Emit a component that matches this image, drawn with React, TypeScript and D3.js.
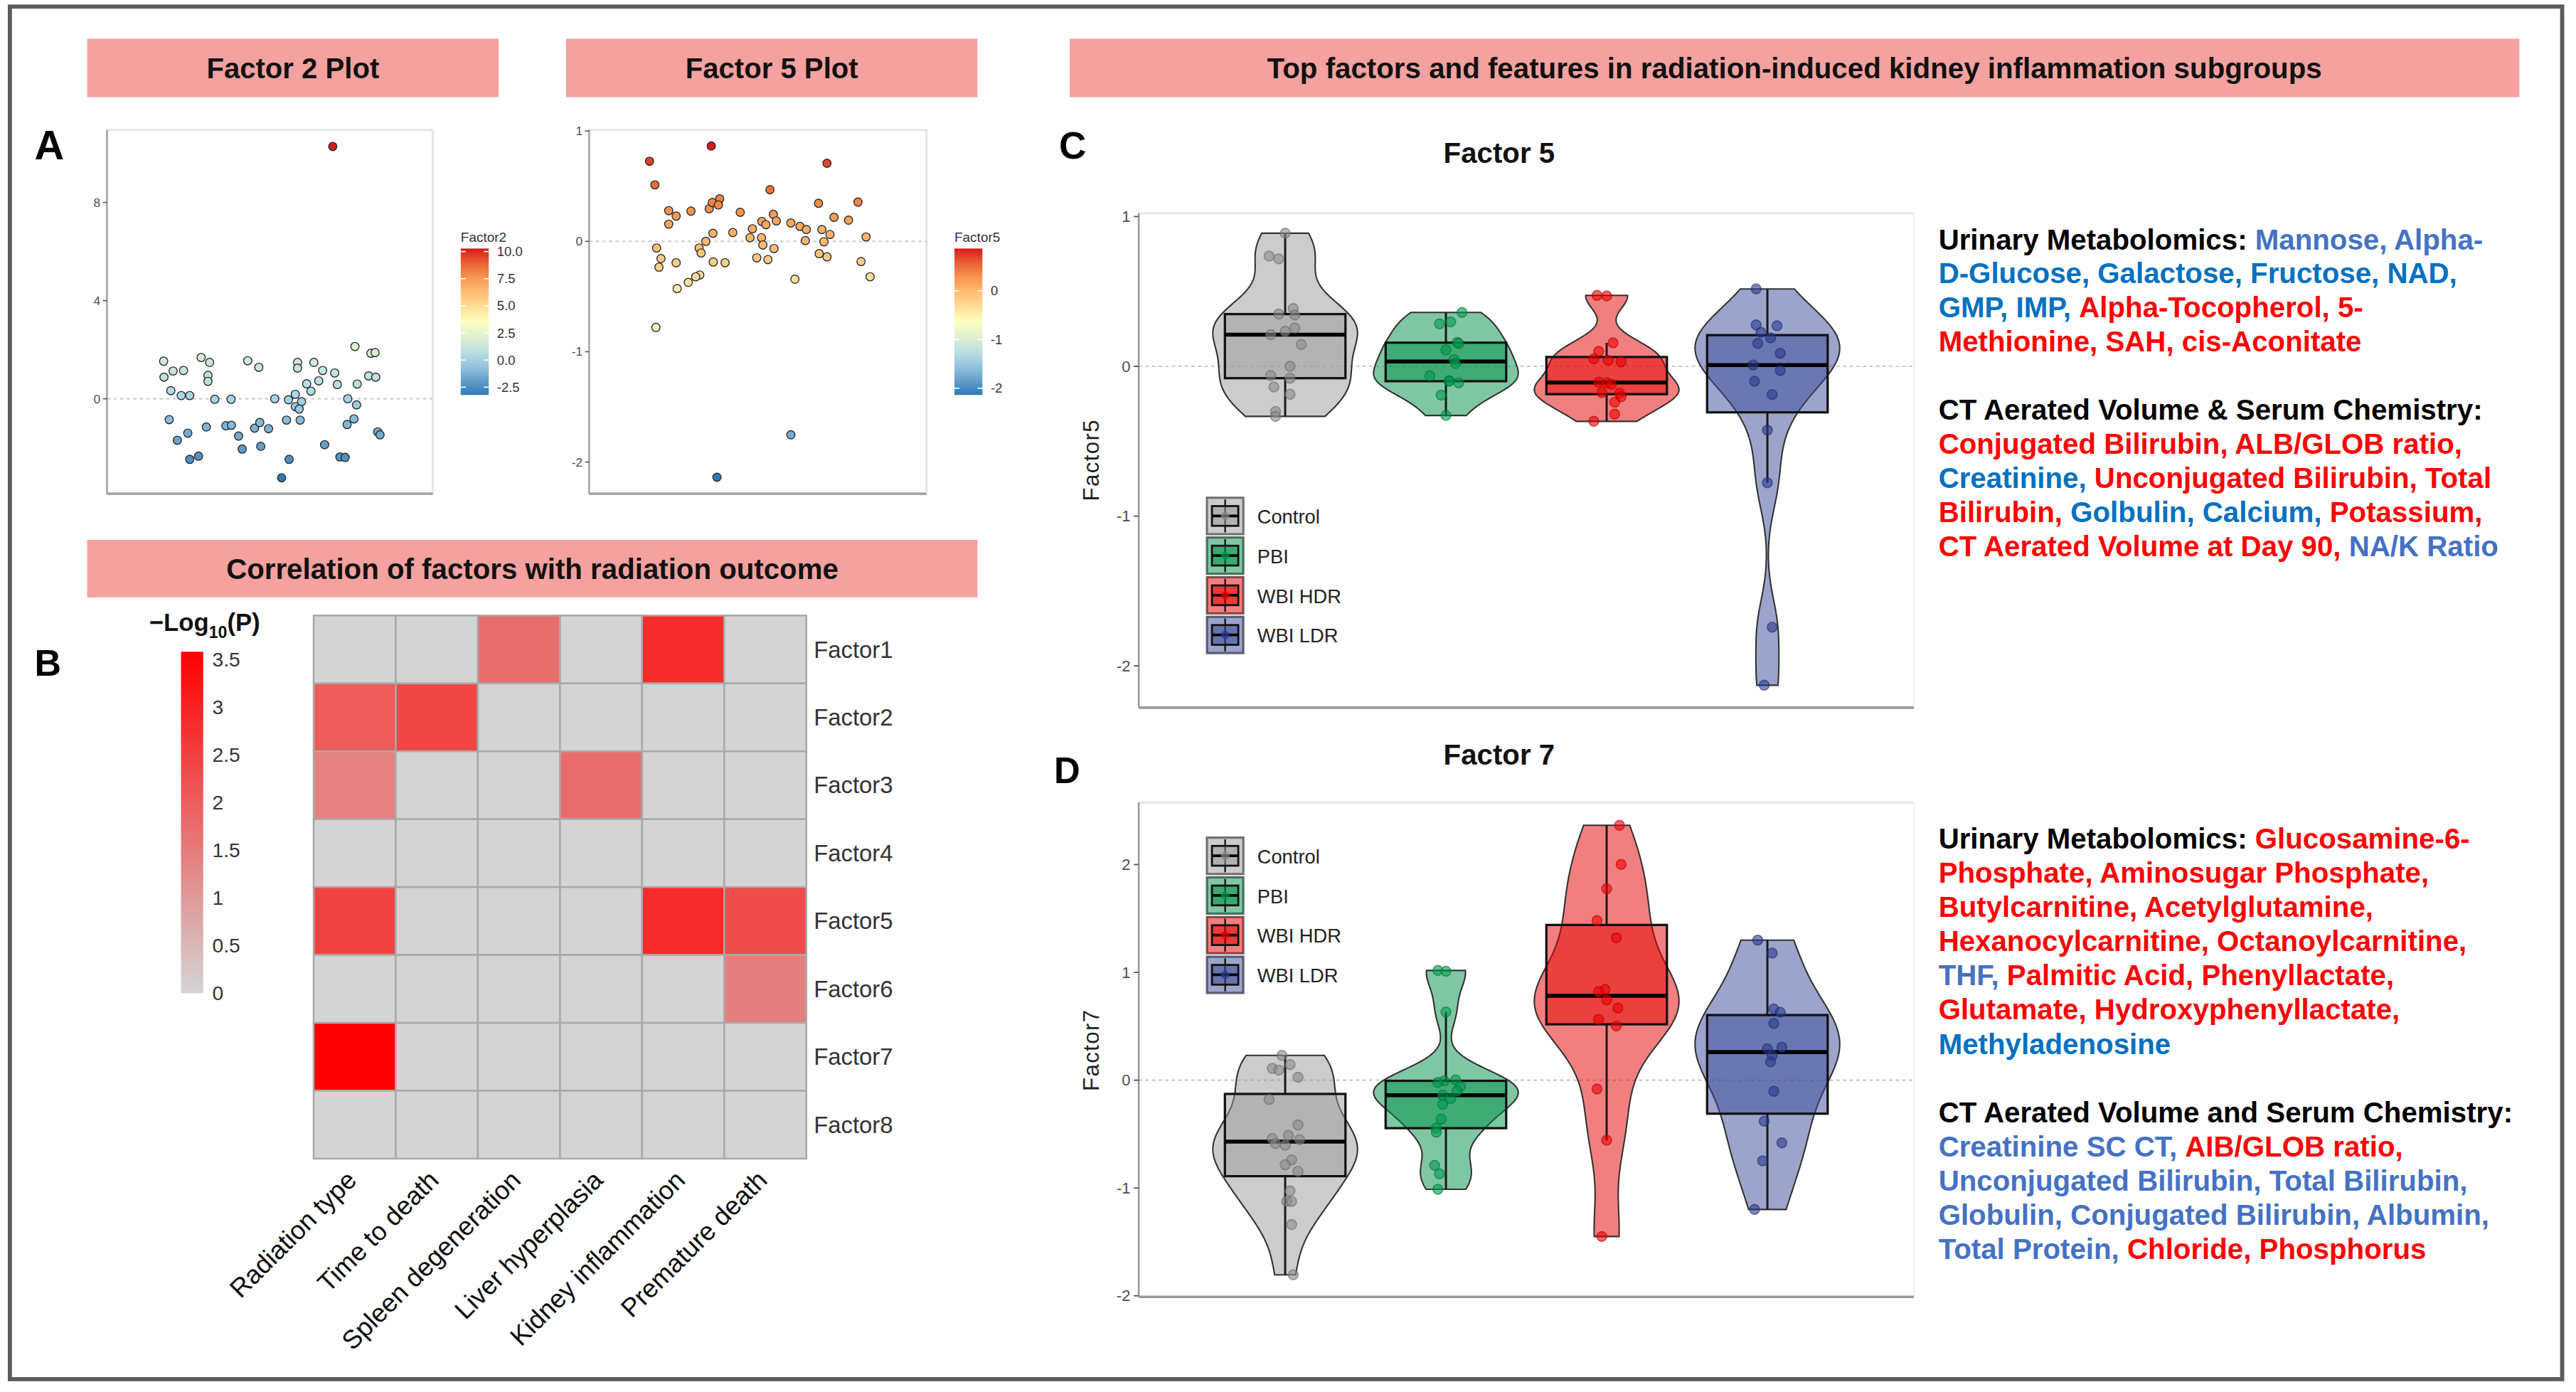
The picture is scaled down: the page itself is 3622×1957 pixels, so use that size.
import React from 'react';
import * as d3 from 'd3';

const FONT = "'Liberation Sans', Arial, Helvetica, sans-serif";
const VB_W = 1565.4;
const VB_H = 845.8;

// ---------- A: factor scatter plots ----------
// [sample position (% of panel width), factor value]
const factor2Points: [number, number][] = [
  [69.3, 10.28], [17.4, 1.53], [17.5, 0.88], [20.3, 1.13], [23.5, 1.15], [19.6, 0.33], [22.8, 0.13],
  [25.4, 0.13], [28.9, 1.68], [31.5, 1.48], [31.0, 0.95], [31.0, 0.71], [33.1, -0.02], [38.1, -0.02],
  [43.2, 1.55], [46.6, 1.28], [51.5, 0.0], [55.7, -0.04], [57.8, 0.18], [59.7, -0.12], [57.8, -0.32],
  [59.0, -0.42], [58.5, 1.48], [58.5, 1.25], [63.5, 1.48], [61.3, 0.61], [62.6, 0.31], [65.0, 0.73],
  [66.2, 1.15], [69.9, 1.05], [70.7, 0.58], [76.1, 2.13], [81.0, 1.85], [82.3, 1.88], [80.3, 0.93],
  [82.5, 0.88], [76.8, 0.6], [73.9, 0.0], [76.6, -0.25], [19.1, -0.85], [21.6, -1.69], [24.8, -1.4],
  [25.4, -2.47], [28.1, -2.34], [30.5, -1.15], [36.5, -1.1], [38.2, -1.08], [40.4, -1.52], [41.5, -2.05],
  [45.3, -1.2], [46.9, -0.97], [49.6, -1.22], [47.2, -1.94], [55.1, -0.87], [59.3, -0.87], [55.9, -2.47],
  [53.6, -3.22], [66.8, -1.87], [71.5, -2.37], [73.1, -2.39], [73.7, -1.05], [75.8, -0.82], [83.1, -1.35],
  [83.8, -1.47],
];
const factor5Points: [number, number][] = [
  [17.9, 0.726], [19.5, 0.512], [36.2, 0.864], [70.5, 0.708], [53.6, 0.468], [23.6, 0.278], [25.8, 0.229],
  [23.6, 0.156], [30.2, 0.274], [35.6, 0.296], [36.5, 0.352], [38.7, 0.385], [38.3, 0.33], [44.8, 0.263],
  [54.6, 0.245], [51.2, 0.18], [52.4, 0.151], [55.5, 0.185], [59.8, 0.167], [62.5, 0.136], [64.4, 0.107],
  [68.0, 0.345], [72.6, 0.218], [76.9, 0.192], [79.7, 0.356], [69.0, 0.107], [71.4, 0.062], [82.1, 0.04],
  [36.7, 0.073], [42.6, 0.08], [48.4, 0.114], [47.7, 0.033], [51.1, 0.033], [51.5, -0.033], [54.8, -0.065],
  [64.1, 0.007], [69.6, -0.004], [34.6, 0.0], [32.6, -0.06], [33.2, -0.105], [20.0, -0.06], [21.3, -0.156],
  [20.7, -0.234], [25.8, -0.194], [36.8, -0.187], [40.3, -0.194], [49.7, -0.149], [53.0, -0.165],
  [68.2, -0.111], [70.5, -0.14], [80.6, -0.183], [83.3, -0.321], [61.0, -0.343], [32.8, -0.305],
  [31.6, -0.321], [29.4, -0.372], [26.1, -0.428], [19.8, -0.78], [59.8, -1.753], [37.9, -2.138],
];
const factor2Ticks = [0, 4, 8];
const factor5Ticks = [-2, -1, 0, 1];
const factor2LegendTicks = [-2.5, 0, 2.5, 5, 7.5, 10];
const factor5LegendTicks = [-2, -1, 0];
const rdylbu = ['#2c7bb6', '#abd9e9', '#ffffbf', '#fdae61', '#d7191c'];

// ---------- B: -log10(P) heatmap ----------
const outcomes = ['Radiation type', 'Time to death', 'Spleen degeneration', 'Liver hyperplasia', 'Kidney inflammation', 'Premature death'];
const factorNames = ['Factor1', 'Factor2', 'Factor3', 'Factor4', 'Factor5', 'Factor6', 'Factor7', 'Factor8'];
const factor1LogP = [0, 0, 1.75, 0, 2.85, 0];
const factor2LogP = [2.05, 2.4, 0, 0, 0, 0];
const factor3LogP = [1.4, 0, 0, 1.75, 0, 0];
const factor4LogP = [0, 0, 0, 0, 0, 0];
const factor5LogP = [2.45, 0, 0, 0, 2.85, 2.3];
const factor6LogP = [0, 0, 0, 0, 0, 1.45];
const factor7LogP = [3.58, 0, 0, 0, 0, 0];
const factor8LogP = [0, 0, 0, 0, 0, 0];
const logPTicks = [0, 0.5, 1, 1.5, 2, 2.5, 3, 3.5];

// ---------- C / D: violin plots ----------
const groups = ['Control', 'PBI', 'WBI HDR', 'WBI LDR'];
const groupColors = ['#999999', '#008f48', '#e60000', '#3a4a98'];
const pointColors = ['#8a8a8a', '#00994d', '#ee0000', '#2a3a8c'];

// [factor value, horizontal jitter in group steps]
const f5Control: [number, number][] = [
  [0.889, 0.0], [0.736, -0.1], [0.718, -0.04], [0.386, 0.05], [0.349, -0.04], [0.343, 0.06], [0.255, 0.06],
  [0.234, 0.0], [0.212, -0.09], [0.146, 0.1], [0.0, 0.03], [-0.061, -0.09], [-0.079, 0.03], [-0.138, -0.07],
  [-0.186, 0.03], [-0.301, -0.06], [-0.334, -0.06],
];
const f5PBI: [number, number][] = [
  [0.36, 0.1], [0.297, 0.03], [0.284, -0.04], [0.16, 0.07], [0.153, 0.08], [0.109, 0.0], [0.045, 0.05],
  [0.02, 0.06], [-0.063, -0.1], [-0.096, 0.02], [-0.1, 0.02], [-0.11, 0.08], [-0.192, -0.03], [-0.328, 0.0],
];
const f5HDR: [number, number][] = [
  [0.474, -0.06], [0.47, 0.0], [0.157, 0.04], [0.1, -0.05], [0.05, -0.08], [0.04, 0.01], [0.03, 0.09],
  [-0.105, -0.05], [-0.11, 0.0], [-0.12, 0.03], [-0.175, -0.03], [-0.18, 0.08], [-0.203, 0.09],
  [-0.24, 0.05], [-0.319, 0.05], [-0.367, -0.08],
];
const f5LDR: [number, number][] = [
  [0.517, -0.07], [0.277, -0.07], [0.271, 0.06], [0.227, -0.04], [0.19, 0.02], [0.153, -0.06], [0.087, 0.08],
  [0.009, -0.09], [-0.028, 0.08], [-0.1, -0.08], [-0.188, 0.03], [-0.426, 0.0], [-0.777, 0.0],
  [-1.742, 0.03], [-2.129, -0.02],
];
const f7Control: [number, number][] = [
  [0.23, -0.02], [0.145, 0.03], [0.109, -0.08], [0.094, -0.04], [0.027, 0.08], [-0.179, -0.1], [-0.415, 0.08],
  [-0.512, 0.02], [-0.542, -0.08], [-0.588, -0.06], [-0.551, 0.09], [-0.603, 0.0], [-0.739, 0.04],
  [-0.784, 0.0], [-0.845, 0.08], [-1.027, 0.03], [-1.124, 0.01], [-1.124, 0.04], [-1.339, 0.04], [-1.805, 0.05],
];
const f7PBI: [number, number][] = [
  [1.018, -0.05], [1.01, 0.0], [0.633, 0.0], [0.003, 0.06], [-0.006, -0.01], [-0.021, -0.05], [-0.058, 0.09],
  [-0.1, 0.07], [-0.139, -0.02], [-0.17, 0.03], [-0.224, -0.02], [-0.36, -0.03], [-0.445, -0.06],
  [-0.482, -0.06], [-0.79, -0.07], [-0.869, -0.04], [-1.012, -0.05],
];
const f7HDR: [number, number][] = [
  [2.365, 0.08], [2.002, 0.09], [1.775, 0.0], [1.48, -0.06], [1.32, 0.06], [0.842, -0.01], [0.821, -0.05],
  [0.745, 0.0], [0.669, 0.07], [0.563, -0.05], [0.503, 0.06], [-0.082, -0.06], [-0.557, 0.0], [-1.45, -0.03],
];
const f7LDR: [number, number][] = [
  [1.299, -0.06], [1.178, 0.03], [0.66, 0.04], [0.63, 0.08], [0.527, 0.04], [0.306, 0.09], [0.291, 0.0],
  [0.23, 0.03], [0.17, 0.02], [-0.103, 0.04], [-0.38, -0.02], [-0.581, 0.09], [-0.748, -0.03], [-1.199, -0.08],
];
const factor5ViolinTicks = [-2, -1, 0, 1];
const factor7ViolinTicks = [-2, -1, 0, 1, 2];

// ---------- text blocks ----------
const textColors: Record<string, string> = { k: '#000000', r: '#ff0000', b1: '#4472c4', b2: '#0070c0' };
const factor5Text: [string, string][][] = [
  [['Urinary Metabolomics: ', 'k'], ['Mannose, Alpha-', 'b1']],
  [['D-Glucose, Galactose, Fructose, NAD,', 'b2']],
  [['GMP, IMP, ', 'b2'], ['Alpha-Tocopherol, 5-', 'r']],
  [['Methionine, SAH, cis-Aconitate', 'r']],
  [],
  [['CT Aerated Volume & Serum Chemistry:', 'k']],
  [['Conjugated Bilirubin, ALB/GLOB ratio,', 'r']],
  [['Creatinine, ', 'b2'], ['Unconjugated Bilirubin, Total', 'r']],
  [['Bilirubin, ', 'r'], ['Golbulin, Calcium, ', 'b2'], ['Potassium,', 'r']],
  [['CT Aerated Volume at Day 90, ', 'r'], ['NA/K Ratio', 'b1']],
];
const factor7Text: [string, string][][] = [
  [['Urinary Metabolomics: ', 'k'], ['Glucosamine-6-', 'r']],
  [['Phosphate, Aminosugar Phosphate,', 'r']],
  [['Butylcarnitine, Acetylglutamine,', 'r']],
  [['Hexanocylcarnitine, Octanoylcarnitine,', 'r']],
  [['THF, ', 'b1'], ['Palmitic Acid, Phenyllactate,', 'r']],
  [['Glutamate, Hydroxyphenyllactate,', 'r']],
  [['Methyladenosine', 'b2']],
  [],
  [['CT Aerated Volume and Serum Chemistry:', 'k']],
  [['Creatinine SC CT, ', 'b1'], ['AIB/GLOB ratio,', 'r']],
  [['Unconjugated Bilirubin, Total Bilirubin,', 'b1']],
  [['Globulin, Conjugated Bilirubin, Albumin,', 'b1']],
  [['Total Protein, ', 'b1'], ['Chloride, Phosphorus', 'r']],
];

// ---------- helpers ----------
function boxStats(vals: number[]) {
  const s = [...vals].sort(d3.ascending);
  const q1 = d3.quantileSorted(s, 0.25) as number;
  const med = d3.quantileSorted(s, 0.5) as number;
  const q3 = d3.quantileSorted(s, 0.75) as number;
  const iqr = q3 - q1;
  const lo = d3.min(s.filter((v) => v >= q1 - 1.5 * iqr)) as number;
  const hi = d3.max(s.filter((v) => v <= q3 + 1.5 * iqr)) as number;
  return { q1, med, q3, lo, hi };
}

// gaussian kde with nrd0 bandwidth, trimmed to data range (like geom_violin)
function violinDensity(vals: number[], n = 256) {
  const s = [...vals].sort(d3.ascending);
  const sd = d3.deviation(s) || 1;
  const iqr = (d3.quantileSorted(s, 0.75) as number) - (d3.quantileSorted(s, 0.25) as number);
  let spread = Math.min(sd, iqr / 1.34);
  if (!(spread > 0)) spread = sd;
  const bw = 0.9 * spread * Math.pow(s.length, -0.2);
  const lo = s[0];
  const hi = s[s.length - 1];
  return d3.range(n).map((i) => {
    const y = lo + ((hi - lo) * i) / (n - 1);
    const d = d3.mean(s, (v) => Math.exp(-0.5 * ((y - v) / bw) ** 2)) as number;
    return [y, d] as [number, number];
  });
}

function Scatter({ points, left, right, top, bottom, yDomain, ticks, legendTitle, legendX, legendTicks, legendFmt, gradId }: any) {
  const x = d3.scaleLinear([0, 100], [left, right]);
  const y = d3.scaleLinear(yDomain, [bottom, top]);
  const ext = d3.extent(points, (p: [number, number]) => p[1]) as [number, number];
  const stops = d3.range(rdylbu.length).map((i) => ext[0] + ((ext[1] - ext[0]) * i) / (rdylbu.length - 1));
  const color = d3.scaleLinear<string>().domain(stops).range(rdylbu).interpolate(d3.interpolateLab);
  const barTop = 151;
  const barBottom = 240;
  const barY = d3.scaleLinear(ext, [barBottom, barTop]);
  return (
    <g>
      <defs>
        <linearGradient id={gradId} x1="0" y1="1" x2="0" y2="0">
          {d3.range(11).map((i) => (
            <stop key={i} offset={i / 10} stopColor={color(ext[0] + ((ext[1] - ext[0]) * i) / 10)} />
          ))}
        </linearGradient>
      </defs>
      <rect x={left} y={top} width={right - left} height={bottom - top} fill="#fff" stroke="#e6e6e6" strokeWidth={1.4} />
      <line x1={left} x2={right} y1={y(0)} y2={y(0)} stroke="#cfcfcf" strokeWidth={1} strokeDasharray="2,2" />
      <line x1={left} x2={left} y1={top} y2={bottom} stroke="#a8a8a8" strokeWidth={1.1} />
      <line x1={left} x2={right} y1={bottom} y2={bottom} stroke="#a8a8a8" strokeWidth={1.6} />
      {ticks.map((t: number) => (
        <g key={t}>
          <line x1={left - 2.5} x2={left} y1={y(t)} y2={y(t)} stroke="#555" strokeWidth={0.7} />
          <text x={left - 4} y={y(t)} dominantBaseline="central" textAnchor="end" fontSize={7.5} fill="#4d4d4d" fontFamily={FONT}>
            {t}
          </text>
        </g>
      ))}
      {points.map((p: [number, number], i: number) => (
        <circle key={i} cx={x(p[0])} cy={y(p[1])} r={2.5} fill={color(p[1])} stroke="#2b2b2b" strokeWidth={0.6} />
      ))}
      <text x={legendX} y={147} fontSize={8.2} fill="#333" fontFamily={FONT}>{legendTitle}</text>
      <rect x={legendX} y={barTop} width={17} height={barBottom - barTop} fill={`url(#${gradId})`} />
      {legendTicks.map((t: number) => (
        <g key={t}>
          <line x1={legendX} x2={legendX + 3} y1={barY(t)} y2={barY(t)} stroke="#fff" strokeWidth={0.7} />
          <line x1={legendX + 14} x2={legendX + 17} y1={barY(t)} y2={barY(t)} stroke="#fff" strokeWidth={0.7} />
          <text x={legendX + 22} y={barY(t)} dominantBaseline="central" fontSize={8} fill="#333" fontFamily={FONT}>
            {legendFmt(t)}
          </text>
        </g>
      ))}
    </g>
  );
}

function Heatmap() {
  const rows = [factor1LogP, factor2LogP, factor3LogP, factor4LogP, factor5LogP, factor6LogP, factor7LogP, factor8LogP];
  const x = d3.scaleBand(outcomes, [190.6, 490]);
  const y = d3.scaleBand(factorNames, [374, 704]);
  const maxP = d3.max(rows.flat()) as number;
  const color = d3.scaleLinear<string>().domain([0, maxP]).range(['#d4d4d4', '#ff0000']);
  const legY = d3.scaleLinear([0, maxP], [603.5, 396]);
  return (
    <g fontFamily={FONT}>
      <defs>
        <linearGradient id="logp-grad" x1="0" y1="1" x2="0" y2="0">
          <stop offset="0" stopColor={color(0)} />
          <stop offset="1" stopColor={color(maxP)} />
        </linearGradient>
      </defs>
      {rows.map((row, ri) =>
        row.map((v, ci) => (
          <rect key={`${ri}-${ci}`} x={x(outcomes[ci])} y={y(factorNames[ri])} width={x.bandwidth()} height={y.bandwidth()}
            fill={color(v)} stroke="#a9a9a9" strokeWidth={1.1} />
        ))
      )}
      {factorNames.map((f) => (
        <text key={f} x={494.5} y={(y(f) as number) + y.bandwidth() / 2} dominantBaseline="central" fontSize={14.2} fill="#333">
          {f}
        </text>
      ))}
      {outcomes.map((o) => (
        <text key={o} transform={`translate(${(x(o) as number) + x.bandwidth() / 2 - 6},${710}) rotate(-45)`}
          textAnchor="end" dy="0.72em" fontSize={15.8} fill="#0a0a0a">
          {o}
        </text>
      ))}
      <text x={90.7} y={383.5} fontSize={15} fontWeight="bold" fill="#111">
        {'\u2212Log'}
        <tspan fontSize={10} dy={4}>10</tspan>
        <tspan dy={-4}>(P)</tspan>
      </text>
      <rect x={110} y={396} width={13.5} height={207.5} fill="url(#logp-grad)" />
      {logPTicks.map((t) => (
        <text key={t} x={129} y={legY(t)} dominantBaseline="central" fontSize={12.2} fill="#333">
          {t}
        </text>
      ))}
    </g>
  );
}

function LegendKey({ x, y, i }: any) {
  const c = groupColors[i];
  return (
    <g>
      <rect x={x} y={y} width={22} height={22} fill="#fff" stroke="#666" strokeWidth={1.4} />
      <rect x={x} y={y} width={22} height={22} fill={c} fillOpacity={0.5} />
      <line x1={x + 11} x2={x + 11} y1={y + 1} y2={y + 21} stroke="#111" strokeWidth={1} />
      <rect x={x + 3} y={y + 5} width={16} height={12} fill={c} fillOpacity={0.55} stroke="#111" strokeWidth={1.2} />
      <line x1={x + 3} x2={x + 19} y1={y + 11} y2={y + 11} stroke="#000" strokeWidth={1.6} />
      <circle cx={x + 11} cy={y + 11} r={2.6} fill={pointColors[i]} fillOpacity={0.7} />
    </g>
  );
}

function ViolinPanel({ data, top, bottom, yDomain, ticks, title, titleY, yTitle, yTitleY, legendTop }: any) {
  const left = 692;
  const right = 1163;
  const x = d3.scalePoint(groups, [left, right]).padding(0.911);
  const step = x.step();
  const y = d3.scaleLinear(yDomain, [bottom, top]);
  const halfMax = (0.9 * step) / 2;
  const boxHalf = (0.75 * step) / 2;
  return (
    <g fontFamily={FONT}>
      <text x={(left + right) / 2 - 16.5} y={titleY} textAnchor="middle" fontSize={17.4} fontWeight="bold" fill="#111">
        {title}
      </text>
      <line x1={left} x2={right} y1={top} y2={top} stroke="#e8e8e8" strokeWidth={1.5} />
      <line x1={right} x2={right} y1={top} y2={bottom} stroke="#f0f0f0" strokeWidth={1} />
      <line x1={left} x2={right} y1={y(0)} y2={y(0)} stroke="#c8c8c8" strokeWidth={0.9} strokeDasharray="2,2" />
      <line x1={left} x2={left} y1={top} y2={bottom} stroke="#9a9a9a" strokeWidth={1.1} />
      <line x1={left} x2={right} y1={bottom} y2={bottom} stroke="#9a9a9a" strokeWidth={1.6} />
      {ticks.map((t: number) => (
        <g key={t}>
          <line x1={left - 3} x2={left} y1={y(t)} y2={y(t)} stroke="#555" strokeWidth={0.8} />
          <text x={left - 5} y={y(t)} dominantBaseline="central" textAnchor="end" fontSize={9.5} fill="#4d4d4d">
            {t}
          </text>
        </g>
      ))}
      <text transform={`translate(663,${yTitleY}) rotate(-90)`} textAnchor="middle" dominantBaseline="central"
        fontSize={13.5} letterSpacing={0.6} fill="#222">
        {yTitle}
      </text>
      {data.map((pts: [number, number][], gi: number) => {
        const cx = x(groups[gi]) as number;
        const vals = pts.map((p) => p[0]);
        const dens = violinDensity(vals);
        const maxD = d3.max(dens, (d) => d[1]) as number;
        const area = d3.area<[number, number]>()
          .y((d) => y(d[0]))
          .x0((d) => cx - (halfMax * d[1]) / maxD)
          .x1((d) => cx + (halfMax * d[1]) / maxD)
          .curve(d3.curveLinear);
        const b = boxStats(vals);
        return (
          <g key={gi}>
            <path d={area(dens) as string} fill={groupColors[gi]} fillOpacity={0.5} stroke="#333" strokeWidth={0.9} />
            <line x1={cx} x2={cx} y1={y(b.q3)} y2={y(b.hi)} stroke="#1a1a1a" strokeWidth={1.3} />
            <line x1={cx} x2={cx} y1={y(b.q1)} y2={y(b.lo)} stroke="#1a1a1a" strokeWidth={1.3} />
            <rect x={cx - boxHalf} y={y(b.q3)} width={boxHalf * 2} height={y(b.q1) - y(b.q3)}
              fill={groupColors[gi]} fillOpacity={0.5} stroke="#111" strokeWidth={1.4} />
            <line x1={cx - boxHalf} x2={cx + boxHalf} y1={y(b.med)} y2={y(b.med)} stroke="#000" strokeWidth={2.4} />
            {pts.map((p, pi) => (
              <circle key={pi} cx={cx + p[1] * step} cy={y(p[0])} r={3} fill={pointColors[gi]} fillOpacity={0.6}
                stroke={d3.color(pointColors[gi])!.darker(0.8).formatHex()} strokeOpacity={0.6} strokeWidth={0.7} />
            ))}
          </g>
        );
      })}
      {groups.map((g, gi) => (
        <g key={g}>
          <LegendKey x={733.5} y={legendTop + gi * 24.1} i={gi} />
          <text x={764} y={legendTop + gi * 24.1 + 11.5} dominantBaseline="central" fontSize={11.8} fill="#222">
            {g}
          </text>
        </g>
      ))}
    </g>
  );
}

function TextBlock({ lines, x, y0, dy }: any) {
  return (
    <g fontFamily={FONT} fontSize={17.4} fontWeight="bold">
      {lines.map((segs: [string, string][], li: number) => (
        <text key={li} x={x} y={y0 + li * dy} style={{ whiteSpace: 'pre' }}>
          {segs.map((s, si) => (
            <tspan key={si} fill={textColors[s[1]]}>{s[0]}</tspan>
          ))}
        </text>
      ))}
    </g>
  );
}

function Header({ x, y, w, h, label, tw }: any) {
  return (
    <g>
      <rect x={x} y={y} width={w} height={h} fill="#f4a19f" />
      <text x={x + w / 2} y={y + h / 2 + 6.2} textAnchor="middle" fontFamily={FONT} fontWeight="bold" fontSize={17.4}
        fill="#111" textLength={tw} lengthAdjust="spacingAndGlyphs">
        {label}
      </text>
    </g>
  );
}

export default function App() {
  return (
    <div style={{ position: 'absolute', left: 0, top: 0 }}>
      <svg width={3622} height={1957} viewBox={`0 0 ${VB_W} ${VB_H}`} style={{ display: 'block', background: '#fff' }}>
        <rect x={0} y={0} width={VB_W} height={VB_H} fill="#fff" />
        <rect x={6} y={4} width={1551} height={834} fill="none" stroke="#5a5a5a" strokeWidth={2.5} />

        <Header x={53} y={23.5} w={250} h={35.5} label="Factor 2 Plot" tw={105} />
        <Header x={344} y={23.5} w={250} h={35.5} label="Factor 5 Plot" tw={105} />
        <Header x={650} y={23.5} w={881} h={35.5} label="Top factors and features in radiation-induced kidney inflammation subgroups" tw={641} />
        <Header x={53} y={328} w={541} h={35} label="Correlation of factors with radiation outcome" tw={372} />

        <g fontFamily={FONT} fontWeight="bold" fill="#000">
          <text x={21} y={97} fontSize={25}>A</text>
          <text x={21} y={410.6} fontSize={22.5}>B</text>
          <text x={643.5} y={96.5} fontSize={23}>C</text>
          <text x={640.5} y={475.7} fontSize={22}>D</text>
        </g>

        <Scatter points={factor2Points} left={65} right={263} top={79} bottom={300} yDomain={[-3.87, 10.95]}
          ticks={factor2Ticks} legendTitle="Factor2" legendX={280} legendTicks={factor2LegendTicks}
          legendFmt={(t: number) => t.toFixed(1)} gradId="f2grad" />
        <Scatter points={factor5Points} left={358} right={563} top={79} bottom={300} yDomain={[-2.287, 1.009]}
          ticks={factor5Ticks} legendTitle="Factor5" legendX={580} legendTicks={factor5LegendTicks}
          legendFmt={(t: number) => String(t)} gradId="f5grad" />

        <Heatmap />

        <ViolinPanel data={[f5Control, f5PBI, f5HDR, f5LDR]} top={129.6} bottom={430} yDomain={[-2.279, 1.022]}
          ticks={factor5ViolinTicks} title="Factor 5" titleY={99} yTitle="Factor5" yTitleY={279.5} legendTop={302.5} />
        <ViolinPanel data={[f7Control, f7PBI, f7HDR, f7LDR]} top={487.6} bottom={788} yDomain={[-2.01, 2.576]}
          ticks={factor7ViolinTicks} title="Factor 7" titleY={464.5} yTitle="Factor7" yTitleY={638} legendTop={509} />

        <TextBlock lines={factor5Text} x={1178} y0={151.5} dy={20.72} />
        <TextBlock lines={factor7Text} x={1178} y0={515.5} dy={20.8} />
      </svg>
    </div>
  );
}
